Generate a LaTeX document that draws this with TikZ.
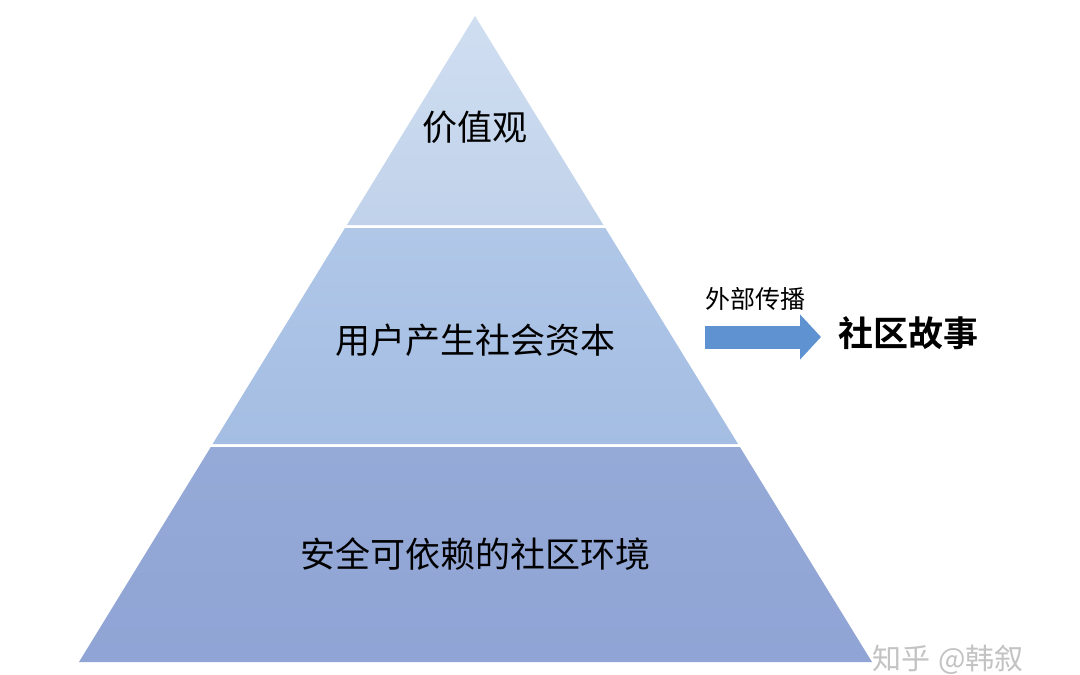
\documentclass[tikz,border=0pt]{standalone}
\usepackage{fontspec}
\setmainfont{Noto Sans CJK SC}
\newfontfamily\cjk{Noto Sans CJK SC}
\newfontfamily\cjkbold{Noto Sans CJK SC Bold}
\usetikzlibrary{arrows.meta}
\definecolor{lvltopA}{RGB}{208,222,241}
\definecolor{lvltopB}{RGB}{192,210,234}
\definecolor{lvlmidA}{RGB}{176,199,232}
\definecolor{lvlmidB}{RGB}{164,189,226}
\definecolor{lvlbotA}{RGB}{150,170,216}
\definecolor{lvlbotB}{RGB}{144,164,213}
\definecolor{arrowblue}{RGB}{94,146,208}
\definecolor{wmgray}{RGB}{195,195,195}
\tikzset{
  layertext/.style={font=\cjk\fontsize{35}{38}\selectfont, text=black, inner sep=0pt},
  sidetext/.style={font=\cjk\fontsize{25}{28}\selectfont, text=black, inner sep=0pt},
  storytext/.style={font=\cjkbold\fontsize{35}{38}\selectfont, text=black, inner sep=0pt},
  wmtext/.style={font=\cjk\fontsize{29}{32}\selectfont, text=wmgray, inner sep=0pt},
  flow/.style={draw=arrowblue, line width=23pt, -{Triangle[width=44pt,length=21pt]}}
}
\begin{document}
\begin{tikzpicture}[x=1pt,y=-1pt]
\useasboundingbox[fill=white] (0,0) rectangle (1080,675);
% layers
\shade[top color=lvltopA, bottom color=lvltopB] (475,16) -- (603.4,225) -- (346.9,225) -- cycle;
\shade[top color=lvlmidA, bottom color=lvlmidB] (345.0,228) -- (605.3,228) -- (738.0,444) -- (212.6,444) -- cycle;
\shade[top color=lvlbotA, bottom color=lvlbotB] (210.8,447) -- (739.9,447) -- (872,662) -- (79,662) -- cycle;
% texts
\node[layertext] (values) at (475,127) {价值观};
\node[layertext] (capital) at (475,340) {用户产生社会资本};
\node[layertext] (env) at (475,554) {安全可依赖的社区环境};
\node[sidetext] (spread) at (755,299) {外部传播};
\node[storytext, anchor=west] (story) at (838,333) {社区故事};
\coordinate (flowstart) at (705,337);
\coordinate (flowend) at (821,337);
\draw[flow] (flowstart) -- (flowend);
\node[wmtext, anchor=west] (mark) at (872,660) {知乎\hspace{8pt}@韩叙};
\end{tikzpicture}
\end{document}
